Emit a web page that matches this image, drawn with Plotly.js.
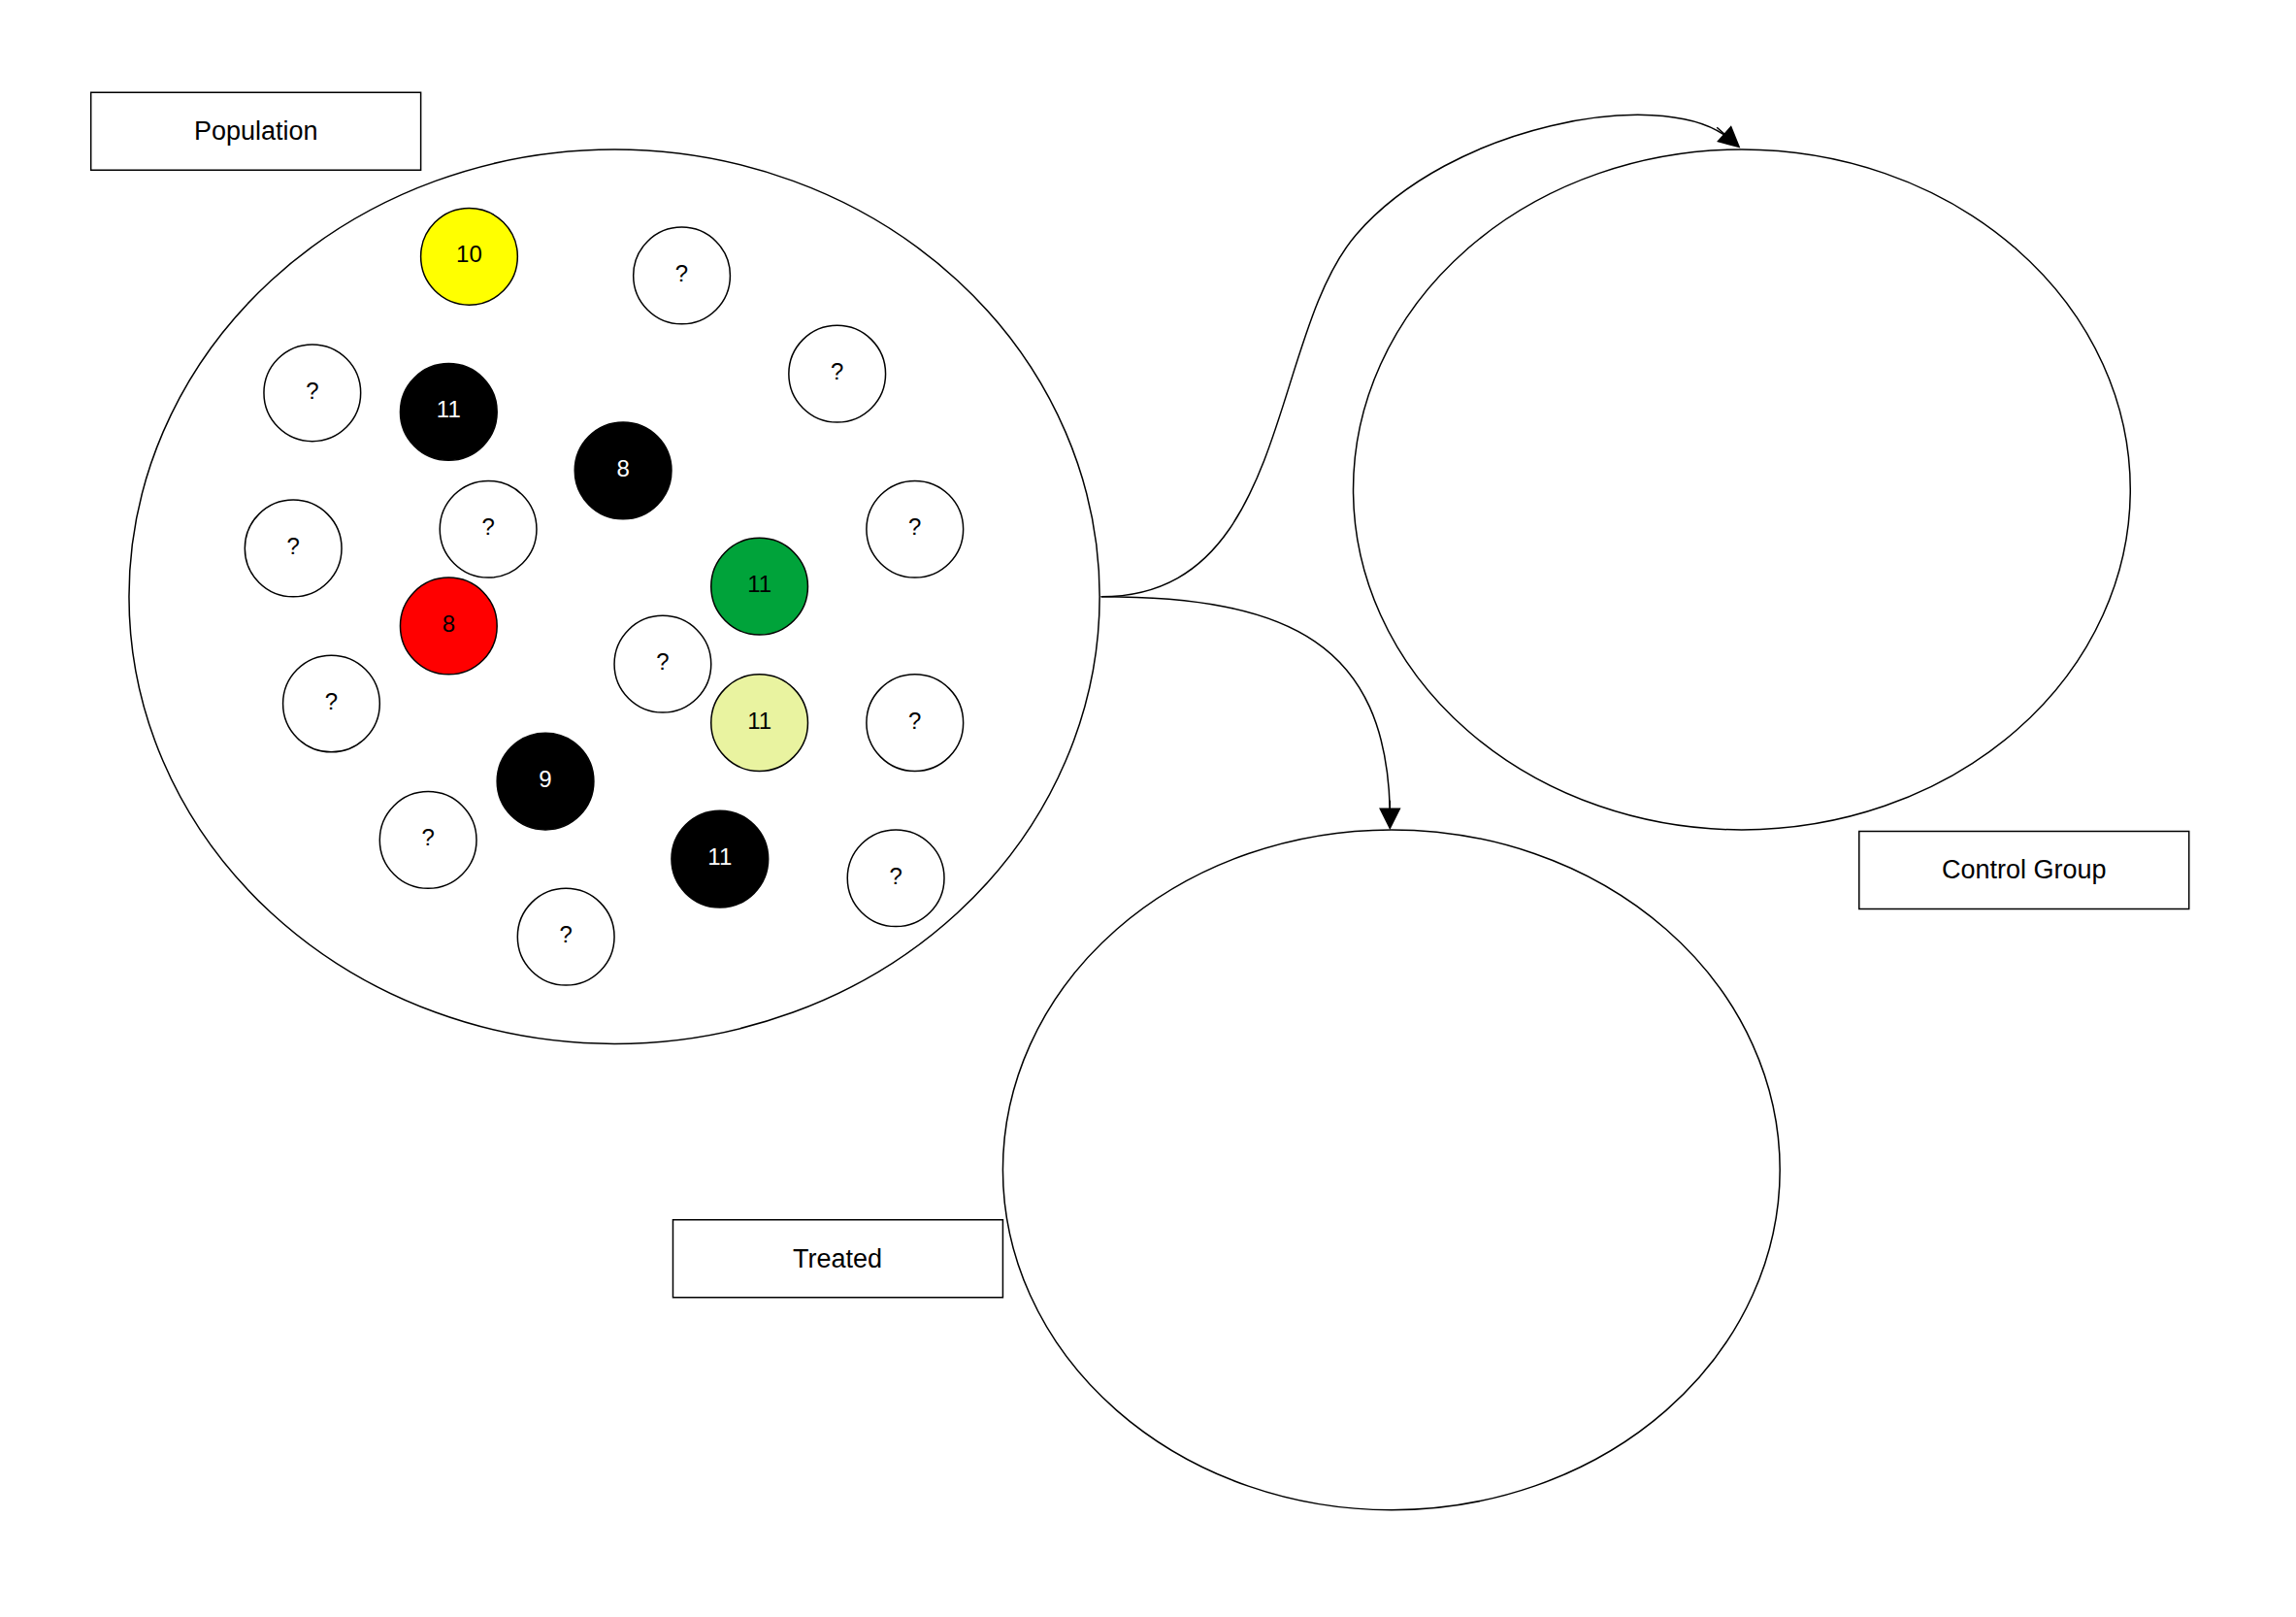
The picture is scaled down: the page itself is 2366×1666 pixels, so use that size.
<!DOCTYPE html>
<html><head><script src="https://cdn.plot.ly/plotly-3.0.1.min.js"></script>
<style>body{margin:0}</style></head><body><div id="c" style="width:2366px;height:1666px"></div>
<script>
const cx=[320,465,213,306,571,425,200,333,624,518,306,452,226,518,624,372,292,491,611,386];
const cy=[175,188,268,281,255,321,374,361,361,400,427,453,480,493,493,533,573,586,599,639];
const labels=['10','?','?','11','?','8','?','?','?','11','8','?','?','11','?','9','?','11','?','?'];
const fills=['#ffff00','#fff','#fff','#000','#fff','#000','#fff','#fff','#fff','#00a33a','#ff0000','#fff','#fff','#e9f3a0','#fff','#000','#fff','#000','#fff','#fff'];
const textCols=fills.map(f=>f==='#000'?'#fff':'#000');
const boxes=[{t:'Population',x0:62,y0:63,x1:287,y1:116},{t:'Control Group',x0:1268,y0:567,x1:1493,y1:620},{t:'Treated',x0:459,y0:832,x1:684,y1:885}];
const ellipses=[[419,407,331,305],[1188,334,265,232],[949,798,265,232]];
const k=2366/1566;
const shapes=[];
ellipses.forEach(e=>shapes.push({type:'circle',xref:'x',yref:'y',x0:e[0]-e[2],x1:e[0]+e[2],y0:e[1]-e[3],y1:e[1]+e[3],line:{color:'#000',width:1.5}}));
boxes.forEach(b=>shapes.push({type:'rect',xref:'x',yref:'y',x0:b.x0,x1:b.x1,y0:b.y0,y1:b.y1,line:{color:'#000',width:1.5}}));
shapes.push({type:'path',path:'M751,407 C880,407 865,230 925,160 C990,85 1130,60 1176,92',line:{color:'#000',width:1.5}});
shapes.push({type:'path',path:'M751,407 C880,407 945,440 948,552',line:{color:'#000',width:1.5}});
const ann=boxes.map(b=>({x:(b.x0+b.x1)/2,y:(b.y0+b.y1)/2,text:b.t,showarrow:false,font:{family:'Liberation Sans, Arial',size:27,color:'#000'}}));
ann.push({x:1187,y:101,ax:1170,ay:86,axref:'x',ayref:'y',text:'',showarrow:true,arrowhead:2,arrowsize:3,arrowwidth:1.5,arrowcolor:'#000'});
ann.push({x:948,y:566,ax:948,ay:545,axref:'x',ayref:'y',text:'',showarrow:true,arrowhead:2,arrowsize:3,arrowwidth:1.5,arrowcolor:'#000'});
Plotly.newPlot('c',[{x:cx,y:cy,mode:'markers+text',text:labels,textposition:'middle center',
 marker:{size:66*k,color:fills,line:{color:'#000',width:1.5}},textfont:{family:'Liberation Sans, Arial',size:24,color:textCols},hoverinfo:'none'}],
{width:2366,height:1666,margin:{l:0,r:0,t:0,b:0},paper_bgcolor:'#fff',plot_bgcolor:'#fff',showlegend:false,
 xaxis:{range:[0,1566],visible:false,fixedrange:true},yaxis:{range:[1103,0],visible:false,fixedrange:true},
 shapes:shapes,annotations:ann},{staticPlot:true});
</script></body></html>
